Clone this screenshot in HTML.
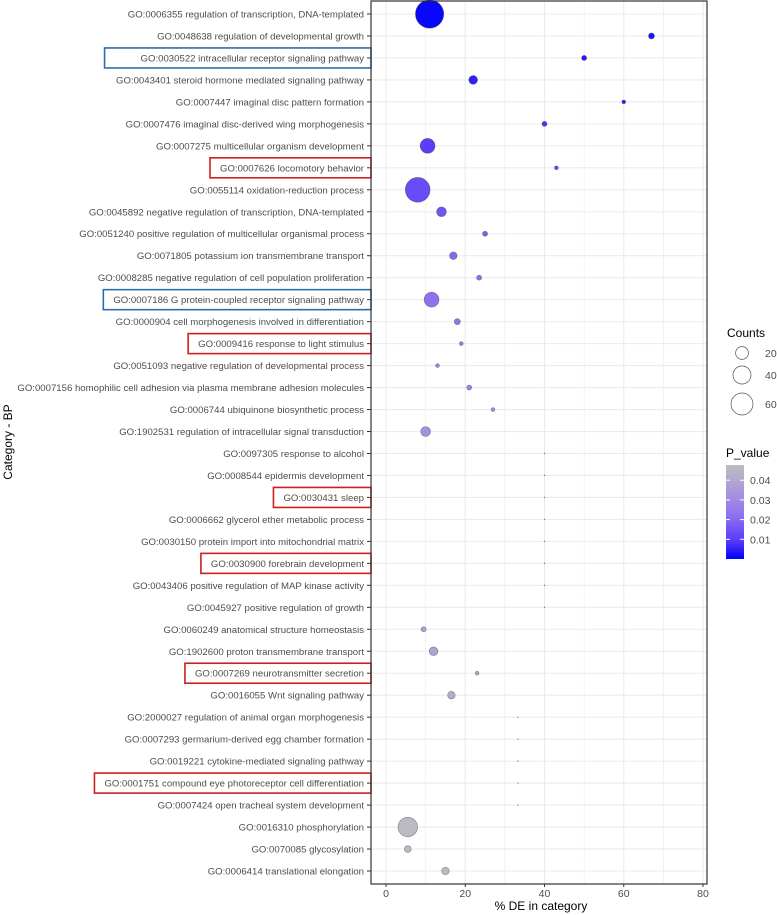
<!DOCTYPE html>
<html><head><meta charset="utf-8"><style>
body{margin:0;background:#fff;}
svg{display:block;font-family:"Liberation Sans",Arial,sans-serif;}
</style></head><body>
<svg id="c" width="777" height="915">
<defs><linearGradient id="pg" x1="0" y1="1" x2="0" y2="0">
<stop offset="0" stop-color="#0000ff"/><stop offset="0.2" stop-color="#5a3cfa"/><stop offset="0.45" stop-color="#8e6ef0"/><stop offset="0.7" stop-color="#a994de"/><stop offset="1" stop-color="#bebebe"/></linearGradient></defs>
</svg>
<script>
const terms=["GO:0006355 regulation of transcription, DNA-templated","GO:0048638 regulation of developmental growth","GO:0030522 intracellular receptor signaling pathway","GO:0043401 steroid hormone mediated signaling pathway","GO:0007447 imaginal disc pattern formation","GO:0007476 imaginal disc-derived wing morphogenesis","GO:0007275 multicellular organism development","GO:0007626 locomotory behavior","GO:0055114 oxidation-reduction process","GO:0045892 negative regulation of transcription, DNA-templated","GO:0051240 positive regulation of multicellular organismal process","GO:0071805 potassium ion transmembrane transport","GO:0008285 negative regulation of cell population proliferation","GO:0007186 G protein-coupled receptor signaling pathway","GO:0000904 cell morphogenesis involved in differentiation","GO:0009416 response to light stimulus","GO:0051093 negative regulation of developmental process","GO:0007156 homophilic cell adhesion via plasma membrane adhesion molecules","GO:0006744 ubiquinone biosynthetic process","GO:1902531 regulation of intracellular signal transduction","GO:0097305 response to alcohol","GO:0008544 epidermis development","GO:0030431 sleep","GO:0006662 glycerol ether metabolic process","GO:0030150 protein import into mitochondrial matrix","GO:0030900 forebrain development","GO:0043406 positive regulation of MAP kinase activity","GO:0045927 positive regulation of growth","GO:0060249 anatomical structure homeostasis","GO:1902600 proton transmembrane transport","GO:0007269 neurotransmitter secretion","GO:0016055 Wnt signaling pathway","GO:2000027 regulation of animal organ morphogenesis","GO:0007293 germarium-derived egg chamber formation","GO:0019221 cytokine-mediated signaling pathway","GO:0001751 compound eye photoreceptor cell differentiation","GO:0007424 open tracheal system development","GO:0016310 phosphorylation","GO:0070085 glycosylation","GO:0006414 translational elongation"];
const pctDE=[11,67,50,22,60,40,10.5,43,8,14,25,17,23.5,11.5,18,19,13,21,27,10,40,40,40,40,40,40,40,40,9.5,12,23,16.5,33.3,33.3,33.3,33.3,33.3,5.5,5.5,15];
const counts=[85,4,3,8,2,3,23,2,65,10,3,6,3,23,4,2,2,3,2,10,1,1,1,1,1,1,1,1,3,8,2,6,1,1,1,1,1,40,5,6];
const pvals=[0.001,0.003,0.004,0.005,0.005,0.008,0.01,0.012,0.013,0.015,0.018,0.02,0.022,0.022,0.024,0.026,0.028,0.029,0.031,0.032,0.035,0.035,0.035,0.035,0.035,0.035,0.035,0.035,0.038,0.038,0.04,0.042,0.043,0.043,0.043,0.043,0.043,0.046,0.046,0.046];
const blueBoxes=[2,13], redBoxes=[7,15,22,25,30,35];
const xTicks=[0,20,40,60,80];
const sizeLegend=[20,40,60];
const pTicks=[0.01,0.02,0.03,0.04];

const svg=document.getElementById('c'),NS='http://www.w3.org/2000/svg';
function mk(t,a,p){const e=document.createElementNS(NS,t);for(const k in a)e.setAttribute(k,a[k]);(p||svg).appendChild(e);return e;}
const L=371,R=707,T=1,B=884;
const X=v=>386+v*(703-386)/80;
const Y=i=>14+i*(871-14)/(terms.length-1);
const rad=c=>0.4+1.5*Math.sqrt(Math.max(c-1,0));
const stops=[[0,[0,0,255]],[0.2,[90,60,250]],[0.45,[142,110,240]],[0.7,[169,148,222]],[1,[190,190,190]]];
function col(p){const t=Math.min(p/0.0477,1);for(let k=1;k<stops.length;k++){if(t<=stops[k][0]){const[a0,a]=stops[k-1],[b0,b]=stops[k];const f=(t-a0)/(b0-a0);return`rgb(${a.map((v,j)=>Math.round(v+(b[j]-v)*f)).join(',')})`;}}return'rgb(190,190,190)';}
// grid
const g=mk('g',{});
for(let v=-10;v<=80;v+=10){if(X(v)<L)continue;mk('line',{x1:X(v),x2:X(v),y1:T,y2:B,stroke:'#ebebeb','stroke-width':v%20?0.6:1.1},g);}
terms.forEach((t,i)=>mk('line',{x1:L,x2:R,y1:Y(i),y2:Y(i),stroke:'#ebebeb','stroke-width':1.1},g));
// y labels
terms.forEach((t,i)=>{const tx=mk('text',{x:364,y:Y(i)+3.5,'text-anchor':'end','font-size':'9.6',fill:'#4d4d4d'});tx.textContent=t;


mk('line',{x1:367,x2:L,y1:Y(i),y2:Y(i),stroke:'#333'});
const isB=blueBoxes.includes(i),isR=redBoxes.includes(i);
if(isB||isR){const w=tx.getComputedTextLength();const pad=(i===2)?36:10;const r=mk('rect',{x:364-w-pad,y:Y(i)-10,width:w+pad+L-364,height:20,fill:'none',stroke:isB?'#2e6ea8':'#cc1f1f','stroke-width':1.6});

}});
// points
terms.forEach((t,i)=>{const c=mk('circle',{cx:X(pctDE[i]),cy:Y(i),r:rad(counts[i]),fill:col(pvals[i]),stroke:'#444','stroke-width':0.6,'stroke-opacity':0.6});

});
const fr=mk('rect',{x:L,y:T,width:R-L,height:B-T,fill:'none',stroke:'#333','stroke-width':1.2});

// x axis
xTicks.forEach(v=>{mk('line',{x1:X(v),x2:X(v),y1:B,y2:B+3,stroke:'#333'});const t=mk('text',{x:X(v),y:B+13,'text-anchor':'middle','font-size':'10.5',fill:'#4d4d4d'});t.textContent=v;
});
let t=mk('text',{x:541,y:910,'text-anchor':'middle','font-size':'12',fill:'#000'});t.textContent='% DE in category';

t=mk('text',{x:0,y:0,'text-anchor':'middle','font-size':'12',fill:'#000',transform:'translate(12,442) rotate(-90)'});t.textContent='Category - BP';

// size legend
t=mk('text',{x:727,y:337,'font-size':'12',fill:'#000'});t.textContent='Counts';

const ly=[353,375,404];
sizeLegend.forEach((c,k)=>{const ci=mk('circle',{cx:742,cy:ly[k],r:rad(c)*0.92,fill:'none',stroke:'#555','stroke-width':0.7});

const tt=mk('text',{x:765,y:ly[k]+4,'font-size':'10.5',fill:'#4d4d4d'});tt.textContent=c;});
// colorbar
t=mk('text',{x:726,y:457,'font-size':'12',fill:'#000'});t.textContent='P_value';

const cb=mk('rect',{x:726,y:465,width:18,height:94,fill:'url(#pg)'});

pTicks.forEach(p=>{const yy=559-p*1970;mk('line',{x1:726,x2:730,y1:yy,y2:yy,stroke:'#fff'});mk('line',{x1:740,x2:744,y1:yy,y2:yy,stroke:'#fff'});
const tt=mk('text',{x:750,y:yy+4,'font-size':'10.5',fill:'#4d4d4d'});tt.textContent=p.toFixed(2);});
</script>
</body></html>
